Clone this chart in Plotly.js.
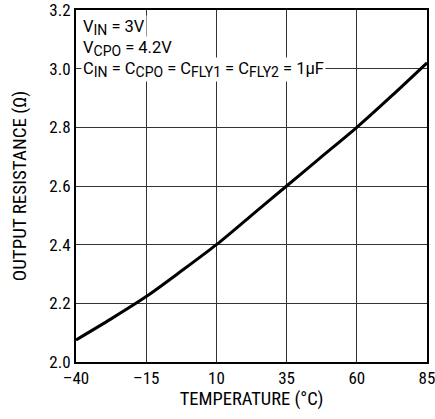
<!DOCTYPE html>
<html>
<head>
<meta charset="utf-8">
<script src="https://cdn.plot.ly/plotly-3.0.1.min.js"></script>
<style>html,body{margin:0;padding:0;background:#fff;}#chart{width:435px;height:419px;}</style>
</head>
<body>
<div id="chart"></div>
<script>
const temperature = [-40, -27.5, -15, -2.5, 10, 22.5, 35, 47.5, 60, 72.5, 85];
const resistance = [2.075, 2.147, 2.223, 2.310, 2.400, 2.500, 2.600, 2.700, 2.800, 2.908, 3.020];
const xTicks = [-40, -15, 10, 35, 60, 85];
const xTickLabels = ['\u201340', '\u201315', '10', '35', '60', '85'];
const yTicks = [2.0, 2.2, 2.4, 2.6, 2.8, 3.0, 3.2];
const yTickLabels = ['2.0', '2.2', '2.4', '2.6', '2.8', '3.0', '3.2'];
const S = (t) => '<sub><span style="font-size:14px">' + t + '</span></sub>';
const noteLines = ['V' + S('IN') + ' = 3V', 'V' + S('CPO') + ' = 4.2V',
  'C' + S('IN') + ' = C' + S('CPO') + ' = C' + S('FLY1') + ' = C' + S('FLY2') + ' = 1\u00b5F'];
const noteY = [3.14, 3.07, 2.997];

const FONT = '"Roboto Condensed", "DejaVu Sans Condensed", Arial, sans-serif';
const NOTEFONT = 'Roboto, "DejaVu Sans Condensed", Arial, sans-serif';

const trace = {
  x: temperature, y: resistance, mode: 'lines', type: 'scatter',
  line: {color: '#000', width: 3, shape: 'spline', smoothing: 0.8},
  hoverinfo: 'skip'
};

const annotations = noteLines.map((t, i) => ({
  x: -38.3, y: noteY[i], xref: 'x', yref: 'y', text: t, showarrow: false,
  xanchor: 'left', yanchor: 'middle', bgcolor: '#fff', borderpad: 1,
  font: {family: NOTEFONT, size: 16.5, color: '#000'}
}));

const layout = {
  width: 435, height: 419,
  margin: {l: 76, r: 8, t: 10, b: 57},
  paper_bgcolor: '#fff', plot_bgcolor: '#fff',
  showlegend: false,
  font: {family: FONT, size: 16, color: '#000'},
  xaxis: {
    range: [-40.001, 85.001], tickvals: xTicks, ticktext: xTickLabels,
    showgrid: true, gridcolor: '#333', gridwidth: 1,
    showline: true, linecolor: '#000', linewidth: 2, mirror: true,
    ticks: '', zeroline: false, fixedrange: true, ticklabeloverflow: 'allow',
    tickfont: {family: FONT, size: 17},
    title: {text: 'TEMPERATURE (\u00b0C)', font: {family: FONT, size: 18.5}, standoff: 5}
  },
  yaxis: {
    range: [1.9999, 3.2001], tickvals: yTicks, ticktext: yTickLabels,
    showgrid: true, gridcolor: '#333', gridwidth: 1,
    showline: true, linecolor: '#000', linewidth: 2, mirror: true,
    ticks: 'outside', ticklen: 0, zeroline: false, fixedrange: true, ticklabeloverflow: 'allow',
    tickfont: {family: FONT, size: 17},
    title: {text: 'OUTPUT RESISTANCE (\u03a9)', font: {family: FONT, size: 19}, standoff: 18}
  },
  annotations: annotations
};

Plotly.newPlot('chart', [trace], layout, {staticPlot: true, displayModeBar: false});
</script>
</body>
</html>
